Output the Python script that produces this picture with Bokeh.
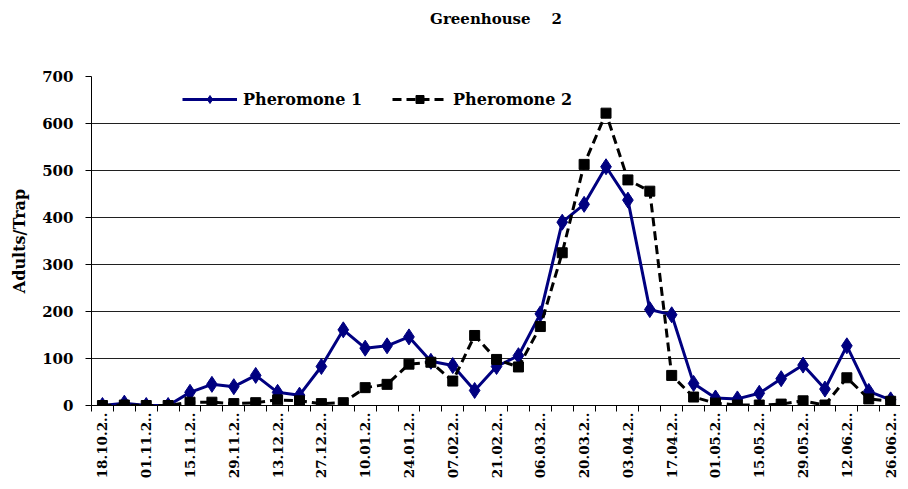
import math
from bokeh.plotting import figure
from bokeh.models import (Range1d, FixedTicker, Legend, LegendItem, Title)
from bokeh.embed import file_html
from bokeh.resources import INLINE

dates = ["18.10", "25.10", "01.11", "08.11", "15.11", "22.11", "29.11", "06.12",
         "13.12", "20.12", "27.12", "03.01", "10.01", "17.01", "24.01", "31.01",
         "07.02", "14.02", "21.02", "28.02", "06.03", "13.03", "20.03", "27.03",
         "03.04", "10.04", "17.04", "24.04", "01.05", "08.05", "15.05", "22.05",
         "29.05", "05.06", "12.06", "19.06", "26.06"]
pheromone1 = [0, 5, 0, 0, 28, 45, 40, 64, 28, 22, 83, 161, 122, 127, 146, 94, 85,
              32, 83, 106, 195, 390, 428, 508, 437, 204, 193, 47, 16, 14, 26, 57,
              86, 35, 127, 30, 12]
pheromone2 = [0, 1, 0, 0, 7, 7, 4, 6, 12, 10, 4, 6, 38, 45, 88, 92, 52, 149, 98,
              82, 168, 325, 513, 622, 480, 456, 64, 18, 5, 1, 1, 3, 10, 1, 59, 14, 9]
y_ticks = [0, 100, 200, 300, 400, 500, 600, 700]

FONT = "DejaVu Serif"
x = list(range(len(dates)))

p = figure(width=900, height=481, output_backend="svg", toolbar_location=None,
           title=None,
           x_range=Range1d(-0.5, 36.45), y_range=Range1d(0, 700),
           min_border_left=91, min_border_right=0, min_border_top=76,
           min_border_bottom=75)
p.outline_line_color = None
p.background_fill_color = "white"

# spacer between plot and title, then the title itself
p.add_layout(Title(text=" ", text_font=FONT, text_font_size="15px",
                   standoff=26), "above")
p.add_layout(Title(text="Greenhouse\u00a0\u00a0\u00a0\u00a02", text_font=FONT,
                   text_font_style="bold", text_font_size="15px",
                   text_color="black", align="center", offset=-7, standoff=6),
             "above")

# lines
r1l = p.line(x, pheromone1, line_color="#000080", line_width=3)
r1m = p.scatter(x, pheromone1, marker="diamond", size=16, fill_color="#000080",
                line_color="#000080")
r2l = p.line(x, pheromone2, line_color="black", line_width=3, line_dash="9 5")
r2m = p.scatter(x, pheromone2, marker="square", size=10, fill_color="black",
                line_color="black")

# x axis
shown = list(range(0, len(dates), 2))
p.xaxis.ticker = FixedTicker(ticks=shown,
                             minor_ticks=[i - 0.5 for i in range(len(dates) + 1)])
p.xaxis.major_label_overrides = {i: dates[i] + ".2.." for i in shown}
p.xaxis.major_label_orientation = math.pi / 2
p.xaxis.major_tick_out = 0
p.xaxis.major_tick_in = 0
p.xaxis.minor_tick_out = 6
p.xaxis.minor_tick_in = 0
p.xaxis.minor_tick_line_color = "black"
p.xaxis.major_label_standoff = 1
p.xaxis.major_label_text_font = FONT
p.xaxis.major_label_text_font_style = "bold"
p.xaxis.major_label_text_font_size = "13.5px"
p.xaxis.major_label_text_color = "black"
p.xaxis.axis_line_color = "black"
p.xgrid.grid_line_color = None

# y axis
p.yaxis.ticker = FixedTicker(ticks=y_ticks)
p.yaxis.minor_tick_line_color = None
p.yaxis.major_tick_out = 6
p.yaxis.major_tick_in = 0
p.yaxis.major_tick_line_color = "black"
p.yaxis.axis_line_color = "black"
p.yaxis.major_label_standoff = 12
p.yaxis.major_label_text_font = FONT
p.yaxis.major_label_text_font_style = "bold"
p.yaxis.major_label_text_font_size = "15px"
p.yaxis.major_label_text_color = "black"
p.yaxis.axis_label = "Adults/Trap"
p.yaxis.axis_label_text_font = FONT
p.yaxis.axis_label_text_font_style = "bold"
p.yaxis.axis_label_text_font_size = "16px"
p.yaxis.axis_label_standoff = 10
p.yaxis.axis_label_text_color = "black"
p.ygrid.grid_line_color = "#202020"
p.ygrid.grid_line_width = 1

# legend
legend = Legend(items=[LegendItem(label="Pheromone 1", renderers=[r1l, r1m]),
                       LegendItem(label="Pheromone 2", renderers=[r2l, r2m])],
                orientation="horizontal", location=(91, 296),
                border_line_color=None, background_fill_alpha=0,
                padding=0, margin=0, spacing=30, glyph_width=55,
                glyph_height=20, label_standoff=6,
                label_text_font=FONT, label_text_font_style="bold",
                label_text_font_size="16px", label_text_color="black")
p.add_layout(legend, "center")

open("out.html", "w").write(file_html(p, INLINE))
